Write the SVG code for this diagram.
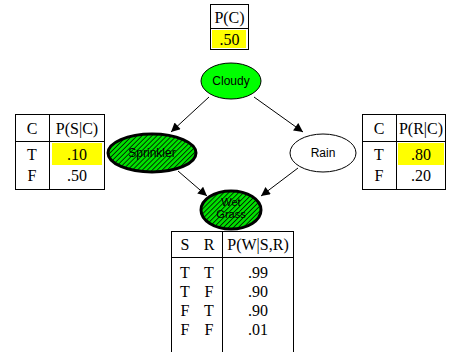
<svg xmlns="http://www.w3.org/2000/svg" width="449" height="352" viewBox="0 0 449 352">
<style>
.tb{fill:none;stroke:#000;stroke-width:1}
.ln{stroke:#000;stroke-width:1}
.t{font-family:"Liberation Serif",serif;font-size:16px;fill:#000;text-anchor:middle}
.lbl{font-family:"Liberation Sans",Arial,sans-serif;font-size:12px;fill:#000;text-anchor:middle}
.lbl2{font-family:"Liberation Sans",Arial,sans-serif;font-size:11px;fill:#000;text-anchor:middle}
.hi{fill:#ffff00;stroke:none}
.edge{stroke:#000;stroke-width:1;fill:none;marker-end:url(#ah)}
</style>
<defs>
<marker id="ah" viewBox="0 0 10 10" refX="10" refY="5" markerWidth="14" markerHeight="9" markerUnits="userSpaceOnUse" orient="auto">
<path d="M0,0 L10,5 L0,10 z" fill="#000"/>
</marker>
<pattern id="hatch" width="3.5" height="3.5" patternUnits="userSpaceOnUse" patternTransform="rotate(45)">
<rect width="3.5" height="3.5" fill="#00e000"/>
<line x1="0" y1="0" x2="0" y2="3.5" stroke="#000" stroke-width="1.5"/>
</pattern>
</defs>
<rect width="449" height="352" fill="#fff"/>
<g id="edges">
<line class="edge" x1="209" y1="97" x2="171" y2="132"/>
<line class="edge" x1="254" y1="97" x2="303" y2="132"/>
<line class="edge" x1="178" y1="171" x2="207" y2="196"/>
<line class="edge" x1="298" y1="168" x2="261" y2="196"/>
</g>
<g id="table-c">
<rect class="hi" x="212" y="30" width="34" height="18"/>
<rect class="tb" x="210.5" y="4.5" width="38" height="45"/>
<line class="ln" x1="210.5" y1="28.5" x2="248.5" y2="28.5"/>
<text class="t" x="229.5" y="23">P(C)</text>
<text class="t" x="229.5" y="45">.50</text>
</g>
<g id="cloudy">
<ellipse cx="231" cy="81" rx="30" ry="18" fill="#00ff00" stroke="#000" stroke-width="1"/>
<text class="lbl" x="231" y="85">Cloudy</text>
</g>
<g id="table-s">
<rect class="hi" x="52" y="143" width="50" height="22"/>
<rect class="tb" x="15.5" y="114.5" width="89" height="75"/>
<line class="ln" x1="49.5" y1="114.5" x2="49.5" y2="189.5"/>
<line class="ln" x1="15.5" y1="141.5" x2="104.5" y2="141.5"/>
<text class="t" x="32" y="134">C</text>
<text class="t" x="77" y="134">P(S|C)</text>
<text class="t" x="32" y="160">T</text>
<text class="t" x="77" y="160">.10</text>
<text class="t" x="32" y="181">F</text>
<text class="t" x="77" y="181">.50</text>
</g>
<g id="sprinkler">
<ellipse cx="152" cy="153" rx="44" ry="19" fill="url(#hatch)" stroke="#000" stroke-width="3"/>
<text class="lbl" x="152" y="157">Sprinkler</text>
</g>
<g id="rain">
<ellipse cx="323" cy="153" rx="33" ry="19" fill="#fff" stroke="#000" stroke-width="1"/>
<text class="lbl" x="323" y="157">Rain</text>
</g>
<g id="table-r">
<rect class="hi" x="398" y="143" width="46" height="22"/>
<rect class="tb" x="362.5" y="114.5" width="83" height="75"/>
<line class="ln" x1="396.5" y1="114.5" x2="396.5" y2="189.5"/>
<line class="ln" x1="362.5" y1="141.5" x2="445.5" y2="141.5"/>
<text class="t" x="379" y="134">C</text>
<text class="t" x="421" y="134">P(R|C)</text>
<text class="t" x="379" y="160">T</text>
<text class="t" x="421" y="160">.80</text>
<text class="t" x="379" y="181">F</text>
<text class="t" x="421" y="181">.20</text>
</g>
<g id="wetgrass">
<ellipse cx="231" cy="210" rx="30" ry="19" fill="url(#hatch)" stroke="#000" stroke-width="3"/>
<text class="lbl2" x="231" y="206">Wet</text>
<text class="lbl2" x="231" y="218">Grass</text>
</g>
<g id="table-w">
<rect class="tb" x="171.5" y="231.5" width="122" height="125"/>
<line class="ln" x1="222.5" y1="231.5" x2="222.5" y2="352"/>
<line class="ln" x1="171.5" y1="257.5" x2="293.5" y2="257.5"/>
<text class="t" x="185" y="250">S</text>
<text class="t" x="209" y="250">R</text>
<text class="t" x="258" y="250">P(W|S,R)</text>
<text class="t" x="185" y="278">T</text><text class="t" x="209" y="278">T</text><text class="t" x="258" y="278">.99</text>
<text class="t" x="185" y="297">T</text><text class="t" x="209" y="297">F</text><text class="t" x="258" y="297">.90</text>
<text class="t" x="185" y="316">F</text><text class="t" x="209" y="316">T</text><text class="t" x="258" y="316">.90</text>
<text class="t" x="185" y="335">F</text><text class="t" x="209" y="335">F</text><text class="t" x="258" y="335">.01</text>
</g>
</svg>
